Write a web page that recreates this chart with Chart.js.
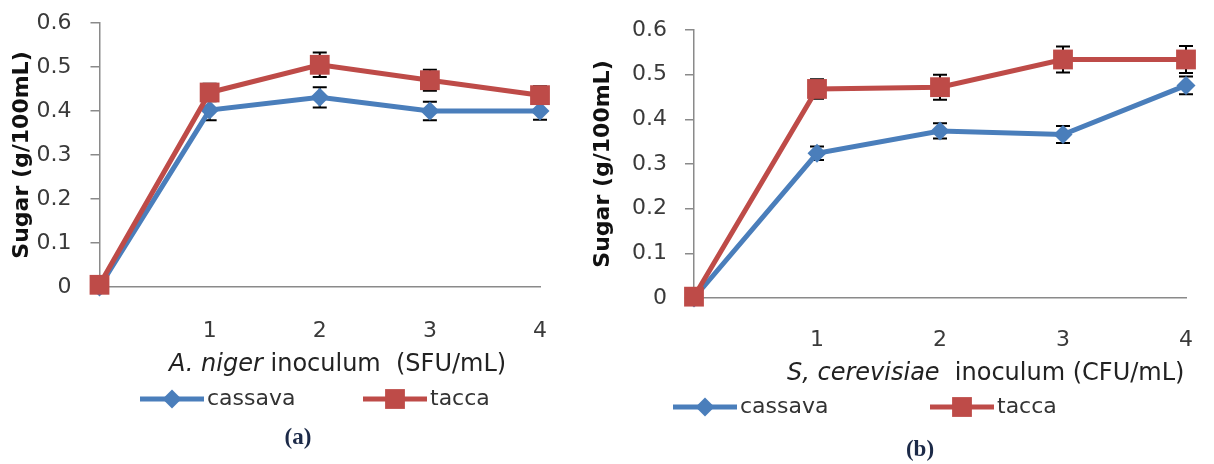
<!DOCTYPE html>
<html>
<head>
<meta charset="utf-8">
<script src="https://cdn.jsdelivr.net/npm/chart.js@4/dist/chart.umd.min.js"></script>
<style>
  html, body { margin: 0; padding: 0; background: #fff; }
  #wrap { position: relative; width: 1214px; height: 464px; overflow: hidden; }
  .panel { position: absolute; top: 0; height: 464px; }
</style>
</head>
<body>
<div id="wrap">
  <div class="panel" style="left:0;width:570px"><canvas id="chartA"></canvas></div>
  <div class="panel" style="left:590px;width:624px"><canvas id="chartB"></canvas></div>
</div>
<script>
const xTickLabels = ['', '1', '2', '3', '4'];
const seriesNames = ['cassava', 'tacca'];
const yTitle = 'Sugar (g/100mL)';

// (a) A. niger inoculum
const cassavaA = [0.0, 0.402, 0.431, 0.400, 0.400];
const taccaA = [0.005, 0.442, 0.505, 0.470, 0.436];
const cassavaErrA = [0, 0.023, 0.023, 0.021, 0.020];
const taccaErrA = [0, 0.020, 0.028, 0.024, 0.020];

// (b) S. cerevisiae inoculum
const cassavaB = [0.0, 0.324, 0.374, 0.366, 0.476];
const taccaB = [0.003, 0.468, 0.472, 0.534, 0.534];
const cassavaErrB = [0, 0.015, 0.017, 0.019, 0.020];
const taccaErrB = [0, 0.022, 0.028, 0.029, 0.030];

const BLUE = '#4a7ebb';
const RED = '#be4b48';
const FONT = '"DejaVu Sans", sans-serif';

// error bars, drawn under the lines and markers
const errorBars = {
  id: 'errorBars',
  beforeDatasetsDraw(chart) {
    const ctx = chart.ctx;
    const y = chart.scales.y;
    ctx.save();
    ctx.strokeStyle = '#000';
    ctx.lineWidth = 2;
    chart.data.datasets.forEach((ds, i) => {
      chart.getDatasetMeta(i).data.forEach((pt, j) => {
        const e = ds.errors[j];
        if (!e) return;
        const top = y.getPixelForValue(ds.data[j] + e);
        const bot = y.getPixelForValue(ds.data[j] - e);
        ctx.beginPath();
        ctx.moveTo(pt.x, top); ctx.lineTo(pt.x, bot);
        ctx.moveTo(pt.x - 7, top); ctx.lineTo(pt.x + 7, top);
        ctx.moveTo(pt.x - 7, bot); ctx.lineTo(pt.x + 7, bot);
        ctx.stroke();
      });
    });
    ctx.restore();
  }
};

function marker(ctx, style, r, x, y) {
  ctx.beginPath();
  if (style === 'rect') {
    const s = r * Math.SQRT1_2;
    ctx.rect(x - s, y - s, 2 * s, 2 * s);
  } else {
    ctx.moveTo(x, y - r); ctx.lineTo(x + r, y); ctx.lineTo(x, y + r); ctx.lineTo(x - r, y);
    ctx.closePath();
  }
  ctx.fill();
}

// axis title (mixed italic), legend row and panel caption
const panelText = {
  id: 'panelText',
  afterDraw(chart, args, o) {
    const ctx = chart.ctx;
    const area = chart.chartArea;
    ctx.save();
    ctx.textBaseline = 'middle';
    ctx.textAlign = 'left';

    let x = o.titleX;
    const ty = area.bottom + o.titleDy;
    ctx.fillStyle = '#222';
    o.titleParts.forEach(p => {
      ctx.font = (p.italic ? 'italic ' : '') + '24px ' + FONT;
      ctx.fillText(p.text, x, ty);
      x += ctx.measureText(p.text).width;
    });

    const ly = area.bottom + o.legendDy;
    chart.data.datasets.forEach((ds, i) => {
      const lx = o.legendX[i];
      ctx.strokeStyle = ds.borderColor;
      ctx.lineWidth = ds.borderWidth;
      ctx.beginPath(); ctx.moveTo(lx, ly); ctx.lineTo(lx + 64, ly); ctx.stroke();
      ctx.fillStyle = ds.borderColor;
      marker(ctx, ds.pointStyle, ds.pointRadius, lx + 32, ly);
      ctx.fillStyle = '#333';
      ctx.font = '22px ' + FONT;
      ctx.fillText(ds.label, lx + 67, ly);
    });

    ctx.font = 'bold 23px "Liberation Serif", serif';
    ctx.fillStyle = '#1c2a48';
    ctx.textAlign = 'center';
    ctx.fillText(o.caption, o.captionX, area.bottom + o.captionDy);
    ctx.restore();
  }
};

function makeChart(id, cassava, tacca, cassavaErr, taccaErr, lay, text) {
  return new Chart(document.getElementById(id), {
    type: 'line',
    data: {
      labels: xTickLabels,
      datasets: [
        { label: seriesNames[0], data: cassava, errors: cassavaErr, order: 1,
          borderColor: BLUE, backgroundColor: BLUE, pointBackgroundColor: BLUE,
          borderWidth: 5, pointStyle: 'rectRot', pointRadius: 9.5, pointBorderWidth: 0,
          tension: 0, clip: false },
        { label: seriesNames[1], data: tacca, errors: taccaErr, order: 0,
          borderColor: RED, backgroundColor: RED, pointBackgroundColor: RED,
          borderWidth: 5, pointStyle: 'rect', pointRadius: 14, pointBorderWidth: 0,
          tension: 0, clip: false }
      ]
    },
    options: {
      responsive: true,
      maintainAspectRatio: false,
      animation: false,
      layout: { padding: lay.padding },
      scales: {
        x: {
          offset: false,
          grid: { display: false },
          border: { display: true, color: '#8a8a8a', width: 1.5 },
          ticks: { font: { family: FONT, size: 22 }, color: '#3a3a3a', padding: lay.xTickPad,
                   autoSkip: false, maxRotation: 0 },
          afterFit: s => { s.height = 65; }
        },
        y: {
          min: 0, max: 0.6,
          grid: { display: true, drawOnChartArea: false, drawTicks: true, tickLength: 9,
                  color: '#8a8a8a', lineWidth: 1.5 },
          border: { display: true, color: '#8a8a8a', width: 1.5 },
          ticks: { stepSize: 0.1, padding: lay.yTickPad, font: { family: FONT, size: 22 }, color: '#3a3a3a',
                   callback: v => v === 0 ? '0' : v.toFixed(1) },
          title: { display: true, text: yTitle, color: '#111',
                   font: { family: FONT, size: 22, weight: 'bold' },
                   padding: { top: lay.yTitlePad, bottom: 0 } },
          afterFit: s => { s.width = lay.yWidth; s.paddingTop = 0; s.paddingBottom = 0; }
        }
      },
      plugins: {
        legend: { display: false },
        tooltip: { enabled: false },
        panelText: text
      }
    },
    plugins: [errorBars, panelText]
  });
}

makeChart('chartA', cassavaA, taccaA, cassavaErrA, taccaErrA,
  { padding: { left: 0, top: 23, right: 28, bottom: 112 }, yWidth: 99.5, yTickPad: 19, yTitlePad: 9, xTickPad: 23 },
  { titleX: 169, titleDy: 78,
    titleParts: [{ text: 'A. niger', italic: true }, { text: ' inoculum  (SFU/mL)', italic: false }],
    legendX: [140, 363], legendDy: 112, caption: '(a)', captionX: 298, captionDy: 151 });

makeChart('chartB', cassavaB, taccaB, cassavaErrB, taccaErrB,
  { padding: { left: 0, top: 30, right: 12, bottom: 101 }, yWidth: 104, yTickPad: 18, yTitlePad: 0, xTickPad: 21 },
  { titleX: 197, titleDy: 76,
    titleParts: [{ text: 'S, cerevisiae', italic: true }, { text: '  inoculum (CFU/mL)', italic: false }],
    legendX: [83, 340], legendDy: 109, caption: '(b)', captionX: 330, captionDy: 152 });
</script>
</body>
</html>
